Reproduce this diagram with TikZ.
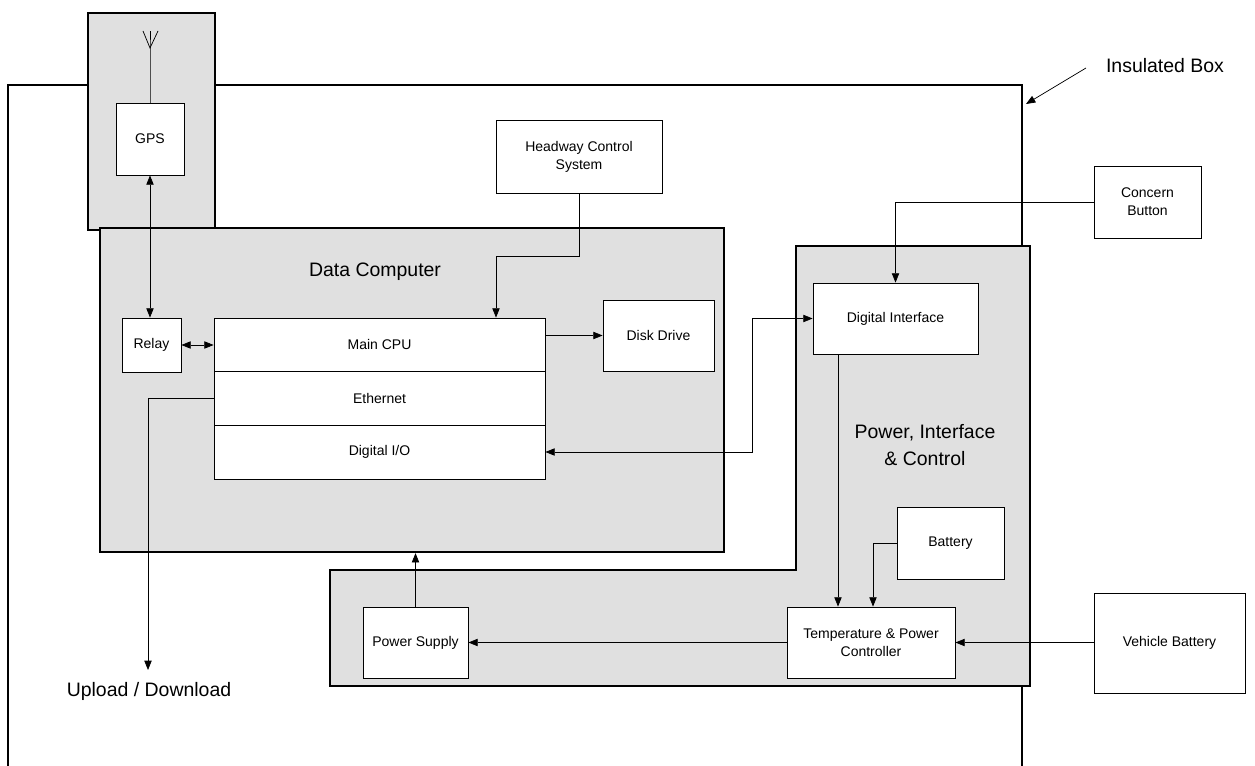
\documentclass[tikz,border=0pt]{standalone}
\usepackage{fontspec}
\setmainfont{Liberation Sans}
\usetikzlibrary{arrows.meta}
\newcommand{\bx}[6]{\node[box,minimum width={(#4-#2)*0.75pt},minimum height={(#5-#3)*0.75pt}] (#1) at ({(#2+#4)/2},{(#3+#5)/2}) {#6};}
\begin{document}
\begin{tikzpicture}[x=0.75pt,y=-0.75pt,
  shade/.style={draw=black,line width=1.7pt,fill=black!12,inner sep=0pt},
  box/.style={draw=black,line width=0.6pt,fill=white,inner sep=0pt,align=center,font=\fontsize{10.5}{13.5}\selectfont},
  big/.style={font=\fontsize{14.6}{20}\selectfont,align=center,inner sep=0pt},
  conn/.style={line width=0.55pt,-{Triangle[length=7pt,width=5.5pt]}},
  conn2/.style={line width=0.55pt,{Triangle[length=7pt,width=5.5pt]}-{Triangle[length=7pt,width=5.5pt]}}]
\clip (0,0) rectangle (1255,766);
\fill[white] (0,0) rectangle (1255,766);
% insulated box
\draw[line width=1.3pt] (8,800) -- (8,85) -- (1022,85) -- (1022,800);
% GPS housing
\node[shade,minimum width={127*0.75pt},minimum height={217*0.75pt}] (gpsh) at (151.5,121.5) {};
% Data computer
\node[shade,minimum width={624*0.75pt},minimum height={324*0.75pt}] (dc) at (412,390) {};
\node[big] (dclab) at (375,272) {Data Computer};
% Power interface & control (L shape)
\draw[shade] (796,246) -- (1030,246) -- (1030,686) -- (330,686) -- (330,570) -- (796,570) -- cycle;
\node[big] (pilab) at (925,445) {Power, Interface\\\& Control};
% nodes
\bx{gps}{116}{103}{184}{175}{GPS}
\bx{relay}{122}{318}{181}{372}{Relay}
\bx{main}{214}{318}{545}{371}{Main CPU}
\bx{eth}{214}{371}{545}{425}{Ethernet}
\bx{dio}{214}{425}{545}{479}{Digital I/O}
\bx{disk}{603}{300}{714}{371}{Disk Drive}
\bx{hcs}{496}{120}{662}{193}{Headway Control\\System}
\bx{di}{813}{283}{978}{354}{Digital Interface}
\bx{cb}{1094}{166}{1201}{238}{Concern\\Button}
\bx{bat}{897}{507}{1004}{579}{Battery}
\bx{tp}{787}{607}{955}{678}{Temperature \& Power\\Controller}
\bx{ps}{363}{607}{468}{678}{Power Supply}
\bx{vb}{1094}{593}{1245}{693}{Vehicle Battery}
% antenna
\coordinate (ant) at (150,48);
\draw[line width=0.55pt] (gps.north -| ant) -- (ant) -- (150,31);
\draw[line width=0.55pt] (143,31) -- (ant) -- (158,31);
% connectors
\draw[conn2] (gps.south) -- (gps.south |- relay.north);
\draw[conn2] (relay.east) -- (relay.east -| main.west);
\coordinate (hk) at (496,256);
\draw[conn] (hcs.south) |- (hk) -- (hk |- main.north);
\draw[conn] (disk.west -| main.east) -- (disk.west);
\coordinate (ud) at (148,670);
\draw[conn] (eth.west) -| (ud);
\node[big] (udlab) at (149,691) {Upload / Download};
\coordinate (k1) at (752,0);
\draw[conn2] (dio.east) -- (dio.east -| k1) |- (di.west);
\draw[conn] (cb.west) -| (di.north);
\coordinate (k3) at (838,0);
\draw[conn] (di.south -| k3) -- (tp.north -| k3);
\coordinate (k4) at (873,0);
\draw[conn] (bat.west) -| (tp.north -| k4);
\draw[conn] (tp.east -| vb.west) -- (tp.east);
\draw[conn] (tp.west) -- (ps.east);
\draw[conn] (ps.north) -- (ps.north |- dc.south);
% insulated box label
\node[big] (iblab) at (1165,66) {Insulated Box};
\coordinate (ibs) at (1086,68);
\coordinate (ibt) at (1026,104);
\draw[conn] (ibs) -- (ibt);
\end{tikzpicture}
\end{document}
